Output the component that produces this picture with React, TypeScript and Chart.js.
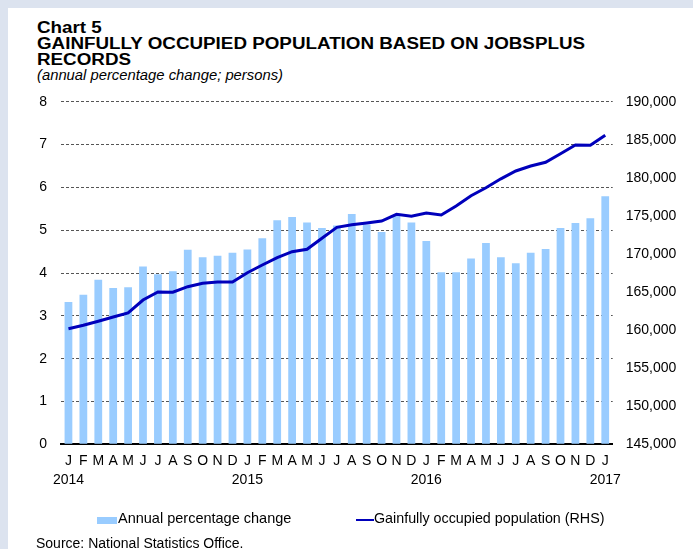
import React, { useEffect, useRef } from 'react';
import { Chart, registerables } from 'chart.js';

Chart.register(...registerables);

const monthLabels = [
  'J', 'F', 'M', 'A', 'M', 'J', 'J', 'A', 'S', 'O', 'N', 'D',
  'J', 'F', 'M', 'A', 'M', 'J', 'J', 'A', 'S', 'O', 'N', 'D',
  'J', 'F', 'M', 'A', 'M', 'J', 'J', 'A', 'S', 'O', 'N', 'D',
  'J',
];

const yearLabels = [
  '2014', '', '', '', '', '', '', '', '', '', '', '',
  '2015', '', '', '', '', '', '', '', '', '', '', '',
  '2016', '', '', '', '', '', '', '', '', '', '', '',
  '2017',
];

const annualChange = [
  3.32, 3.49, 3.84, 3.65, 3.67, 4.15, 3.97, 4.04, 4.54, 4.37, 4.40, 4.47,
  4.55, 4.81, 5.23, 5.31, 5.18, 5.05, 5.11, 5.38, 5.13, 4.96, 5.33, 5.18,
  4.75, 4.02, 4.02, 4.34, 4.70, 4.37, 4.23, 4.47, 4.56, 5.05, 5.17, 5.28,
  5.79,
];

const occupiedPopulation = [
  160180, 160630, 161160, 161720, 162250, 163950, 165000, 164970, 165700, 166150, 166320, 166320,
  167540, 168550, 169510, 170300, 170610, 172060, 173500, 173850, 174070, 174330, 175210, 174950,
  175380, 175120, 176300, 177650, 178700, 179870, 180900, 181550, 182040, 183170, 184310, 184270,
  185590,
];

const leftTicks = { min: 0, max: 8, step: 1 };
const rightTicks = { min: 145000, max: 190000, step: 5000 };

const BAR_COLOR = '#99ccff';
const LINE_COLOR = '#0000bb';
const FONT = "'Liberation Sans', Arial, Helvetica, sans-serif";

export default function App() {
  const canvasRef = useRef<HTMLCanvasElement | null>(null);

  useEffect(() => {
    if (!canvasRef.current) return;
    const chart = new Chart(canvasRef.current, {
      type: 'bar',
      data: {
        labels: monthLabels.map((m, i) => (yearLabels[i] ? [m, yearLabels[i]] : m)),
        datasets: [
          {
            type: 'line',
            label: 'Gainfully occupied population (RHS)',
            data: occupiedPopulation,
            yAxisID: 'y1',
            borderColor: LINE_COLOR,
            backgroundColor: LINE_COLOR,
            borderWidth: 3,
            pointRadius: 0,
            tension: 0,
            order: 0,
          } as any,
          {
            type: 'bar',
            label: 'Annual percentage change',
            data: annualChange,
            yAxisID: 'y',
            backgroundColor: BAR_COLOR,
            borderWidth: 0,
            categoryPercentage: 1,
            barPercentage: 0.52,
            order: 1,
          },
        ],
      },
      options: {
        responsive: false,
        animation: false,
        devicePixelRatio: 1,
        layout: { padding: { top: 101.7, bottom: 54.7, left: 0, right: 0 } },
        plugins: {
          legend: { display: false },
          tooltip: { enabled: false },
          title: { display: false },
        },
        scales: {
          x: {
            offset: true,
            grid: { display: false, drawTicks: false },
            border: { display: true, color: '#000', width: 2 },
            ticks: {
              color: '#000',
              font: { family: FONT, size: 14, lineHeight: 1.35 },
              padding: 7.6,
              maxRotation: 0,
              autoSkip: false,
            },
            afterFit: (s: any) => {
              s.height = 50;
            },
          },
          y: {
            position: 'left',
            min: leftTicks.min,
            max: leftTicks.max,
            grid: { color: '#555', lineWidth: 1, drawTicks: false },
            border: { display: false, dash: [3, 2] },
            ticks: {
              stepSize: leftTicks.step,
              color: '#000',
              font: { family: FONT, size: 14 },
              padding: 14,
            },
            afterFit: (s: any) => {
              s.width = 61;
            },
          },
          y1: {
            position: 'right',
            min: rightTicks.min,
            max: rightTicks.max,
            grid: { display: false, drawTicks: false },
            border: { display: false },
            ticks: {
              stepSize: rightTicks.step,
              color: '#000',
              font: { family: FONT, size: 14 },
              padding: 13,
              callback: (v: any) => Number(v).toLocaleString('en-US'),
            },
            afterFit: (s: any) => {
              s.width = 80.3;
            },
          },
        },
      },
    });
    return () => chart.destroy();
  }, []);

  const textBase: React.CSSProperties = {
    position: 'absolute',
    fontFamily: FONT,
    color: '#000',
    whiteSpace: 'nowrap',
    margin: 0,
  };

  return (
    <div style={{ position: 'fixed', left: 0, top: 0, width: 693, height: 549, background: '#dce3ef', overflow: 'hidden' }}>
      <div style={{ position: 'absolute', left: 8, top: 8, right: 0, bottom: 0, background: '#ffffff' }} />
      <div
        style={{
          ...textBase,
          left: 37,
          top: 19.5,
          fontSize: 16,
          lineHeight: '16px',
          fontWeight: 'bold',
          transform: 'scaleX(1.175)',
          transformOrigin: 'left top',
        }}
      >
        <div>Chart 5</div>
        <div>GAINFULLY OCCUPIED POPULATION BASED ON JOBSPLUS</div>
        <div>RECORDS</div>
      </div>
      <div style={{ ...textBase, left: 37, top: 67, fontSize: 14.8, lineHeight: '16px', fontStyle: 'italic' }}>
        (annual percentage change; persons)
      </div>
      <canvas
        ref={canvasRef}
        width={693}
        height={549}
        style={{ position: 'absolute', left: 0, top: 0, width: 693, height: 549 }}
      />
      <div style={{ position: 'absolute', left: 97, top: 516.5, width: 20, height: 7, background: BAR_COLOR }} />
      <div style={{ ...textBase, left: 118, top: 510, fontSize: 14.5, lineHeight: '16px' }}>Annual percentage change</div>
      <div style={{ position: 'absolute', left: 356, top: 518.5, width: 18, height: 2.5, background: LINE_COLOR }} />
      <div style={{ ...textBase, left: 374, top: 510, fontSize: 14.3, lineHeight: '16px' }}>
        Gainfully occupied population (RHS)
      </div>
      <div style={{ ...textBase, left: 36, top: 535, fontSize: 14, lineHeight: '16px' }}>Source: National Statistics Office.</div>
    </div>
  );
}
